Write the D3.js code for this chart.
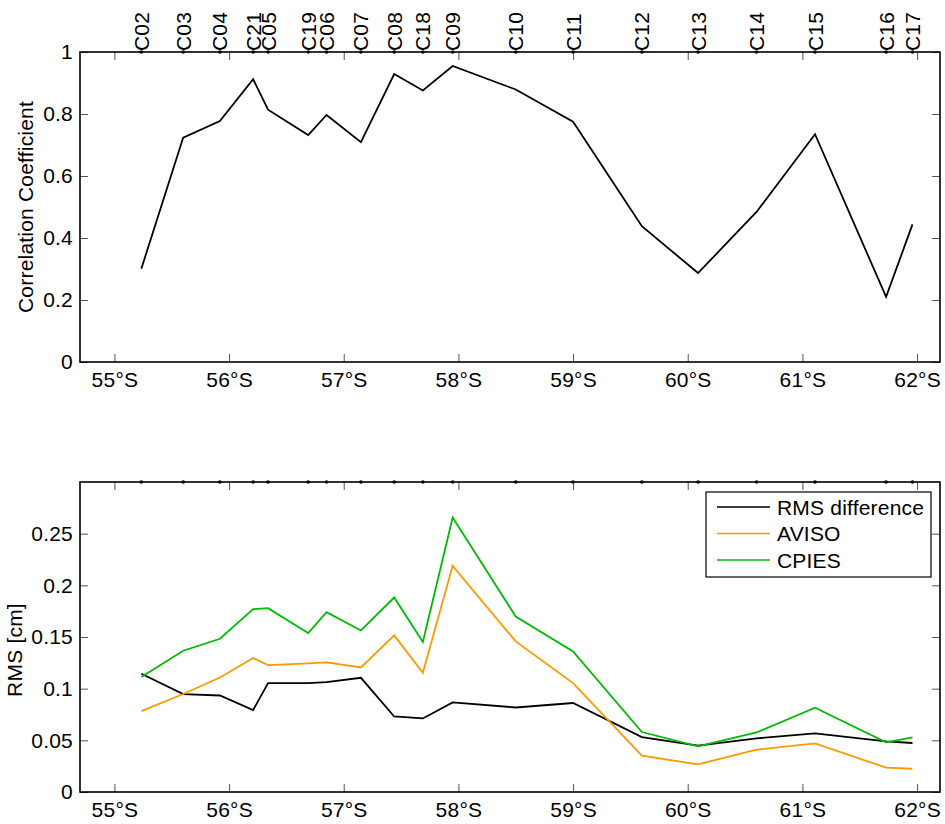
<!DOCTYPE html>
<html>
<head>
<meta charset="utf-8">
<script src="https://cdn.jsdelivr.net/npm/d3@7"></script>
<style>
  html, body { margin: 0; padding: 0; background: #fff; }
  svg text { font-family: "Liberation Sans", Arial, Helvetica, sans-serif; font-size: 21px; letter-spacing: 0.2px; fill: #000; }
</style>
</head>
<body>
<svg id="chart" width="945" height="824"></svg>
<script>
// Mooring stations along the line, with their latitude (degrees south)
const stations = ["C02","C03","C04","C21","C05","C19","C06","C07","C08","C18","C09","C10","C11","C12","C13","C14","C15","C16","C17"];
const stationLat = [55.235, 55.60, 55.92, 56.21, 56.34, 56.69, 56.85, 57.15, 57.44, 57.69, 57.95, 58.50, 59.00, 59.60, 60.09, 60.60, 61.11, 61.73, 61.96];

// Correlation between the two sea-level records at each station
const correlation = [0.301, 0.724, 0.777, 0.912, 0.814, 0.732, 0.797, 0.709, 0.929, 0.876, 0.955, 0.879, 0.775, 0.438, 0.287, 0.484, 0.735, 0.210, 0.444];

// RMS values at each station
const rmsDifference = [0.1144, 0.0948, 0.0934, 0.0793, 0.1054, 0.1054, 0.1064, 0.1105, 0.0731, 0.0712, 0.0867, 0.0818, 0.0861, 0.0532, 0.0448, 0.0519, 0.0567, 0.0490, 0.0474];
const rmsAviso = [0.0783, 0.0948, 0.1108, 0.1296, 0.1228, 0.1244, 0.1254, 0.1205, 0.1515, 0.1154, 0.2189, 0.1457, 0.1054, 0.0351, 0.0267, 0.0409, 0.0470, 0.0235, 0.0225];
const rmsCpies = [0.1112, 0.1367, 0.1483, 0.1770, 0.1779, 0.1538, 0.1741, 0.1563, 0.1882, 0.1451, 0.2656, 0.1698, 0.1360, 0.0580, 0.0441, 0.0576, 0.0815, 0.0480, 0.0528];

const seriesNames = ["RMS difference", "AVISO", "CPIES"];
const seriesColors = ["#000000", "#ff9900", "#00bb00"];

// Tick values
const latTicks = [55, 56, 57, 58, 59, 60, 61, 62];
const corrTicks = [0, 0.2, 0.4, 0.6, 0.8, 1];
const rmsTicks = [0, 0.05, 0.1, 0.15, 0.2, 0.25];

const svg = d3.select("#chart");
const left = 80, right = 940;
const tickLen = 8;
const tickColor = "#555";

const x = d3.scaleLinear().domain([54.7, 62.2]).range([left, right]);

function drawFrame(g, y, yTicks, yFormat) {
  const [yBottom, yTop] = y.range();
  const bottom = g.append("g").attr("transform", `translate(0,${yBottom})`)
    .call(d3.axisBottom(x).tickValues(latTicks).tickFormat(d => d + "°S")
      .tickSizeInner(-tickLen).tickSizeOuter(0).tickPadding(10));
  const top = g.append("g").attr("transform", `translate(0,${yTop})`)
    .call(d3.axisTop(x).tickValues(latTicks).tickFormat("")
      .tickSizeInner(-tickLen).tickSizeOuter(0));
  const leftAx = g.append("g").attr("transform", `translate(${left},0)`)
    .call(d3.axisLeft(y).tickValues(yTicks).tickFormat(yFormat)
      .tickSizeInner(-tickLen).tickSizeOuter(0).tickPadding(7));
  const rightAx = g.append("g").attr("transform", `translate(${right},0)`)
    .call(d3.axisRight(y).tickValues(yTicks).tickFormat("")
      .tickSizeInner(-tickLen).tickSizeOuter(0));
  [bottom, top, leftAx, rightAx].forEach(a => {
    a.select(".domain").remove();
    a.selectAll(".tick line").attr("stroke", tickColor).attr("stroke-width", 1);
    a.selectAll(".tick text").attr("fill", "#000");
    a.attr("font-size", null).attr("font-family", null);
  });
  g.append("rect")
    .attr("x", left).attr("y", yTop)
    .attr("width", right - left).attr("height", yBottom - yTop)
    .attr("fill", "none").attr("stroke", "#000").attr("stroke-width", 1.6);
}

// ---------- Upper panel: correlation coefficient ----------
const y1 = d3.scaleLinear().domain([0, 1]).range([362, 52]);
const g1 = svg.append("g");

const line1 = d3.line().x((d, i) => x(stationLat[i])).y(d => y1(d));
g1.append("path").datum(correlation)
  .attr("d", line1).attr("fill", "none")
  .attr("stroke", "#000").attr("stroke-width", 1.8).attr("stroke-linejoin", "miter");

drawFrame(g1, y1, corrTicks, d => String(d));

g1.selectAll("circle.st").data(stationLat).join("circle")
  .attr("class", "st").attr("cx", d => x(d)).attr("cy", y1(1)).attr("r", 1.8).attr("fill", "#000");

g1.selectAll("text.st").data(stations).join("text")
  .attr("class", "st")
  .attr("transform", (d, i) => `translate(${x(stationLat[i])},${y1(1) - 1}) rotate(-90)`)
  .attr("text-anchor", "start")
  .attr("dy", "0.36em")
  .text(d => d);

g1.append("text")
  .attr("transform", "translate(33,207) rotate(-90)")
  .attr("text-anchor", "middle")
  .text("Correlation Coefficient");

// ---------- Lower panel: RMS ----------
const y2 = d3.scaleLinear().domain([0, 0.3]).range([792, 482]);
const g2 = svg.append("g");

const series = [rmsDifference, rmsAviso, rmsCpies];
const line2 = d3.line().x((d, i) => x(stationLat[i])).y(d => y2(d));
g2.selectAll("path.series").data(series).join("path")
  .attr("class", "series")
  .attr("d", line2).attr("fill", "none")
  .attr("stroke", (d, i) => seriesColors[i]).attr("stroke-width", 1.8);

drawFrame(g2, y2, rmsTicks, d => String(d));

g2.selectAll("circle.st").data(stationLat).join("circle")
  .attr("class", "st").attr("cx", d => x(d)).attr("cy", y2(0.3)).attr("r", 1.8).attr("fill", "#000");

g2.append("text")
  .attr("transform", "translate(22,650) rotate(-90)")
  .attr("text-anchor", "middle")
  .text("RMS [cm]");

// Legend
const legend = g2.append("g").attr("transform", "translate(706,492)");
legend.append("rect")
  .attr("width", 225).attr("height", 85)
  .attr("fill", "#fff").attr("stroke", "#000").attr("stroke-width", 1.2);
const rows = legend.selectAll("g.row").data(seriesNames).join("g")
  .attr("class", "row")
  .attr("transform", (d, i) => `translate(0,${15 + i * 26.5})`);
rows.append("line")
  .attr("x1", 11).attr("x2", 64)
  .attr("stroke", (d, i) => seriesColors[i]).attr("stroke-width", 1.6);
rows.append("text")
  .attr("x", 71).attr("dy", "0.36em")
  .text(d => d);
</script>
</body>
</html>
